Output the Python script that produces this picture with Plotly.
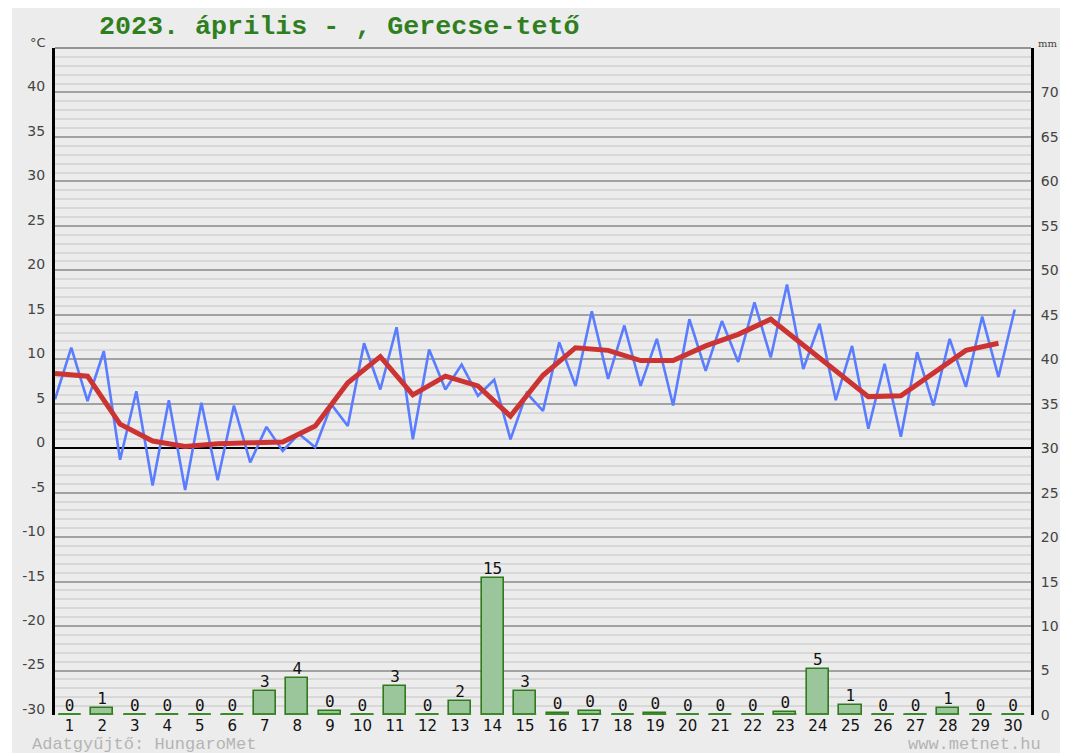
import plotly.graph_objects as go

# ---------------- data ----------------
days = list(range(1, 31))
day_labels = [str(d) for d in days]

t_min = [5.5, 5.3, -1.3, -4.2, -4.7, -3.6, -1.6, -0.3, 0.1, 2.5,
         6.6, 1.0, 6.6, 5.9, 1.0, 4.2, 7.0, 7.8, 7.0, 4.8,
         8.7, 9.7, 10.2, 8.9, 5.4, 2.2, 1.3, 4.8, 6.9, 8.0]
t_max = [11.3, 10.9, 6.4, 5.4, 5.1, 4.8, 2.4, 1.6, 4.9, 11.8,
         13.6, 11.1, 9.4, 7.7, 6.2, 11.9, 15.4, 13.8, 12.3, 14.5,
         14.3, 16.4, 18.4, 14.0, 11.5, 9.5, 10.8, 12.3, 14.8, 15.6]
t_mean = [8.4, 8.1, 2.7, 0.8, 0.2, 0.5, 0.6, 0.7, 2.5, 7.35,
          10.3, 6.0, 8.1, 7.0, 3.6, 8.2, 11.3, 11.0, 9.85, 9.85,
          11.5, 12.8, 14.5, 11.6, 8.7, 5.8, 5.9, 8.4, 11.0, 11.8]
precip = [0, 0.8, 0, 0, 0, 0, 2.7, 4.2, 0.4, 0,
          3.3, 0, 1.6, 15.4, 2.7, 0.2, 0.4, 0, 0.2, 0,
          0, 0, 0.3, 5.2, 1.1, 0, 0, 0.8, 0, 0]
precip_labels = ["0", "1", "0", "0", "0", "0", "3", "4", "0", "0",
                 "3", "0", "2", "15", "3", "0", "0", "0", "0", "0",
                 "0", "0", "0", "5", "1", "0", "0", "1", "0", "0"]

left_ticks = list(range(-30, 45, 5))
right_ticks = list(range(0, 75, 5))

# ---------------- derived positions ----------------
x_lo = [d - 1 for d in days]          # daily minimum position
x_hi = [d - 0.5 for d in days]        # daily maximum position
x_bar = [d - 0.55 for d in days]      # bar / label centre
BAR_W = 0.68

zig_x, zig_y = [], []
for a, lo, b, hi in zip(x_lo, t_min, x_hi, t_max):
    zig_x += [a, b]
    zig_y += [lo, hi]

base_x, base_y = [], []
for c in x_bar:
    base_x += [c - BAR_W / 2, c + BAR_W / 2, None]
    base_y += [0, 0, None]

# ---------------- figure geometry (page has an 8px body margin) ----------------
OFF = 8
W, H = 1071 - OFF, 753 - OFF
L, T = 55 - OFF, 48 - OFF
R, B = 1071 - 1033, 753 - 715
PW, PH = W - L - R, H - T - B


def px(page_x):
    return (page_x - OFF - L) / PW


def py(page_y):
    return (H - B - (page_y - OFF)) / PH


GREEN_DARK = "#2f7a1c"
fig = go.Figure()

fig.add_trace(go.Bar(
    x=x_bar, y=precip, yaxis="y2", width=BAR_W,
    marker=dict(color="#9bc59b", line=dict(color=GREEN_DARK, width=1.6)),
    hoverinfo="skip", showlegend=False))
fig.add_trace(go.Scatter(
    x=base_x, y=base_y, yaxis="y2", mode="lines",
    line=dict(color="#3c8a2a", width=4), hoverinfo="skip", showlegend=False))
fig.add_trace(go.Scatter(
    x=x_bar, y=precip, yaxis="y2", mode="text", text=precip_labels,
    textposition="top center", cliponaxis=False,
    textfont=dict(family="DejaVu Sans Mono", size=16, color="#111111"),
    hoverinfo="skip", showlegend=False))

fig.add_trace(go.Scatter(
    x=zig_x, y=zig_y, mode="lines",
    line=dict(color="#5a7cff", width=2.6), hoverinfo="skip", showlegend=False))
fig.add_trace(go.Scatter(
    x=x_lo, y=t_mean, mode="lines",
    line=dict(color="#cc3333", width=5), hoverinfo="skip", showlegend=False))

fig.update_layout(
    width=W, height=H,
    margin=dict(l=L, r=R, t=T, b=B),
    paper_bgcolor="white",
    plot_bgcolor="#ececec",
    xaxis=dict(range=[0, 30], tickmode="array", tickvals=x_bar, ticktext=day_labels,
               showgrid=False, zeroline=False, showline=False, ticks="",
               tickfont=dict(family="DejaVu Sans", size=15, color="#111111")),
    yaxis=dict(range=[-30, 45], tickmode="array", tickvals=left_ticks,
               ticktext=[str(v) for v in left_ticks],
               showgrid=True, gridcolor="#a2a2a2", gridwidth=1.5,
               minor=dict(dtick=1, tick0=-30, showgrid=True, gridcolor="#d8d8d8", gridwidth=2),
               zeroline=True, zerolinecolor="#000000", zerolinewidth=2,
               showline=True, linecolor="#000000", linewidth=3, ticks="",
               ticklabelshift=-6, ticklabelstandoff=4,
               tickfont=dict(family="DejaVu Sans", size=14, color="#444444")),
    yaxis2=dict(range=[0, 75], overlaying="y", side="right", tickmode="array",
                tickvals=right_ticks, ticktext=[str(v) for v in right_ticks],
                showgrid=False, zeroline=False,
                showline=True, linecolor="#000000", linewidth=3, ticks="",
                ticklabelstandoff=4,
                tickfont=dict(family="DejaVu Sans", size=14, color="#444444")),
    bargap=0,
    shapes=[
        dict(type="rect", xref="paper", yref="paper", layer="below",
             x0=px(12), x1=px(1062), y0=py(760), y1=py(0),
             fillcolor="#ececec", line=dict(width=0)),
        dict(type="line", xref="paper", yref="paper", x0=0, x1=1, y0=1, y1=1,
             line=dict(color="#777777", width=1.5)),
    ],
    annotations=[
        dict(text="<b>2023. április - , Gerecse-tető</b>", xref="paper", yref="paper",
             x=px(97), y=py(27), xanchor="left", yanchor="middle", showarrow=False,
             font=dict(family="Liberation Mono", size=26.7, color="#2f7f1f")),
        dict(text="°C", xref="paper", yref="paper", x=px(38), y=py(42),
             xanchor="center", yanchor="middle", showarrow=False,
             font=dict(family="DejaVu Sans", size=13, color="#444444")),
        dict(text="mm", xref="paper", yref="paper", x=px(1050), y=py(43),
             xanchor="center", yanchor="middle", showarrow=False,
             font=dict(family="DejaVu Serif", size=10, color="#444444")),
        dict(text="Adatgyűjtő: HungaroMet", xref="paper", yref="paper",
             x=px(30), y=py(744), xanchor="left", yanchor="middle", showarrow=False,
             font=dict(family="Liberation Mono", size=17, color="#b4b4b4")),
        dict(text="www.metnet.hu", xref="paper", yref="paper",
             x=px(1045), y=py(744), xanchor="right", yanchor="middle", showarrow=False,
             font=dict(family="Liberation Mono", size=17, color="#b4b4b4")),
    ],
)

fig.write_html("out.html")
